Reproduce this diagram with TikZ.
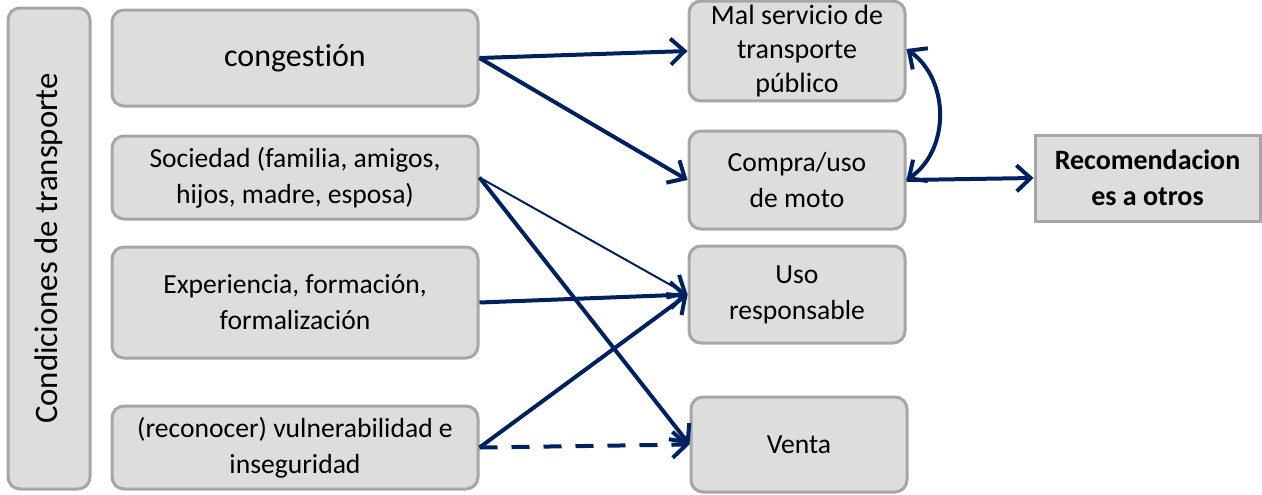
\documentclass[tikz,border=0pt]{standalone}
\usepackage{fontspec}
\setmainfont{Carlito}[Ligatures=NoCommon]
\usetikzlibrary{arrows.meta}

\definecolor{boxfill}{RGB}{221,221,221}
\definecolor{boxline}{RGB}{166,166,166}
\definecolor{navy}{RGB}{0,33,96}

\begin{document}
\begin{tikzpicture}[
    x=0.5pt, y=-0.5pt,
    factor/.style={draw=boxline, line width=1.5pt, fill=boxfill, rounded corners=6pt,
      align=center, inner sep=2pt, font=\fontsize{13.8}{18}\selectfont},
    link/.style={navy, line width=2pt, -{Straight Barb[length=7pt,width=13pt]}},
    thinlink/.style={navy, line width=1pt, -{Straight Barb[length=7pt,width=13pt,line width=2pt]}}]
    \useasboundingbox (0,0) rectangle (1262,494);

    % Left column: the conditions
    \node[factor, minimum width=41pt, minimum height=240.5pt] (cond) at (49,248.5) {};
    \node[rotate=90, font=\fontsize{16.4}{18}\selectfont] at (cond.center) {Condiciones de transporte};

    \node[factor, minimum width=183pt, minimum height=48pt, font=\fontsize{16}{18}\selectfont]
      (cong) at (295,58) {congestión};
    \node[factor, minimum width=183pt, minimum height=41.5pt]
      (soc) at (295,177.5) {Sociedad (familia, amigos,\\hijos, madre, esposa)};
    \node[factor, minimum width=183pt, minimum height=55.5pt]
      (exp) at (295,302.5) {Experiencia, formación,\\formalización};
    \node[factor, minimum width=183pt, minimum height=41.5pt]
      (vul) at (295,447.5) {(reconocer) vulnerabilidad e\\inseguridad};

    % Right column: the outcomes
    \node[factor, minimum width=108pt, minimum height=49pt, font=\fontsize{14}{17}\selectfont]
      (mal) at (797,51) {Mal servicio de\\transporte\\público};
    \node[factor, minimum width=108pt, minimum height=49pt]
      (moto) at (797,180) {Compra/uso\\de moto};
    \node[factor, minimum width=108pt, minimum height=48.5pt]
      (uso) at (797,294.5) {Uso\\responsable};
    \node[factor, minimum width=108pt, minimum height=47.5pt]
      (venta) at (799,444.5) {Venta};
    \node[factor, rounded corners=0pt, minimum width=112.5pt, minimum height=43pt,
      font=\bfseries\fontsize{14}{18}\selectfont]
      (recom) at (1147.5,178) {Recomendacion\\es a otros};

    % Links between them
    \draw[link] (cong.east) -- (mal.west);
    \draw[link] (cong.east) -- (moto.west);
    \draw[thinlink] (soc.east) -- (uso.west);
    \draw[link] (soc.east) -- (venta.west);
    \draw[link] (exp.east) -- (uso.west);
    \draw[link] (vul.east) -- (uso.west);
    \draw[link, dash pattern=on 9pt off 7pt] (vul.east) -- (venta.west);
    \draw[link] (moto.east) -- (recom.west);

    % Loop between the bad service and the motorbike
    \draw[link, {Straight Barb[length=7pt,width=13pt]}-{Straight Barb[length=7pt,width=13pt]}]
      (moto.east) .. controls (950,150) and (950,80) .. ([yshift=1pt]mal.east);
\end{tikzpicture}
\end{document}
